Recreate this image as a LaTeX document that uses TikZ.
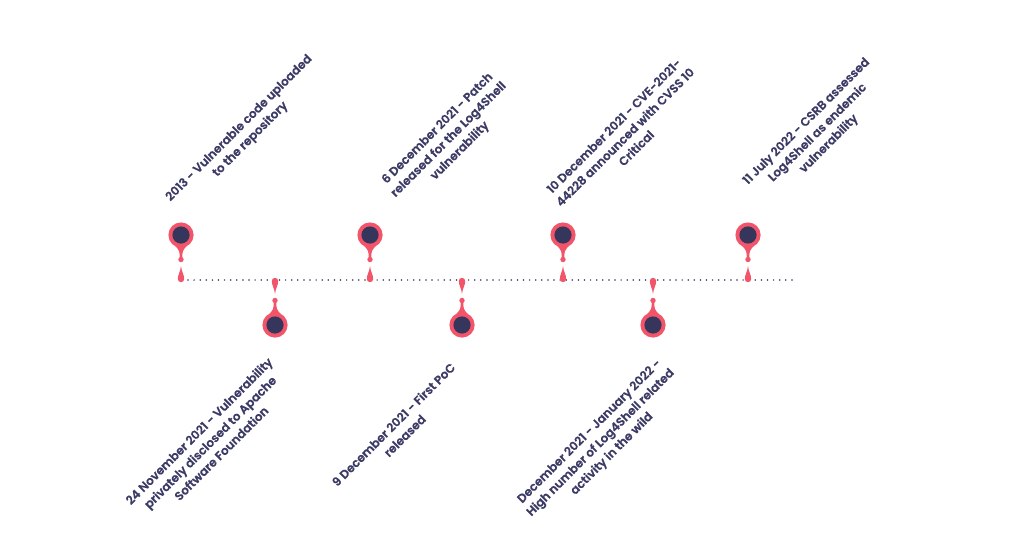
\documentclass[tikz,border=0pt]{standalone}
\usepackage{fontspec}
\setmainfont{Poppins}[BoldFont={Poppins SemiBold},BoldFeatures={FakeBold=0.3}]
\definecolor{pinred}{HTML}{F2546A}
\definecolor{navy}{HTML}{36355C}
\definecolor{txt}{HTML}{3C3B66}
\tikzset{
  lbl/.style={rotate=45, align=center, inner sep=0pt, text=txt,
    font=\fontsize{12}{15.8}\selectfont\bfseries},
  pin/.pic={
    \fill[pinred] (0,-45) circle (12.6);
    \fill[navy] (0,-45) circle (8.6);
    \fill[pinred] (-5.5,-33.8) .. controls (-1.8,-30) and (-1.2,-28) .. (-1.2,-22)
       -- (1.2,-22) .. controls (1.2,-28) and (1.8,-30) .. (5.5,-33.8) -- cycle;
    \fill[pinred] (0,-20.5) circle (2.7);
    \fill[pinred] (0,-14) .. controls (0.4,-9) and (3.2,-5) .. (3.2,-1)
       arc[start angle=0, end angle=180, radius=3.2]
       .. controls (-3.2,-5) and (-0.4,-9) .. (0,-14) -- cycle;
  }
}
\begin{document}
\begin{tikzpicture}[x=1pt,y=-1pt]
\useasboundingbox[fill=white] (0,0) rectangle (1024,551);
\coordinate (ls) at (188,280);
\coordinate (le) at (792,280);
\draw[navy, line width=1.7pt, line cap=round, dash pattern=on 0pt off 6.1pt] (ls) -- (le);
\pic at (181,280) {pin};
\pic at (370,280) {pin};
\pic at (563,280) {pin};
\pic at (748,280) {pin};
\pic[yscale=-1] at (275,280) {pin};
\pic[yscale=-1] at (462,280) {pin};
\pic[yscale=-1] at (653,280) {pin};
\node[lbl] (t1) at (245,134) {2013 - Vulnerable code uploaded\\to the repository};
\node[lbl] (t2) at (449,140) {6 December 2021 - Patch\\released for the Log4Shell\\vulnerability};
\node[lbl] (t3) at (625,137) {10 December 2021 - CVE-2021-\\44228 announced with CVSS 10\\Critical};
\node[lbl] (t4) at (818,133) {11 July 2022 - CSRB assessed\\Log4Shell as endemic\\vulnerability};
\node[lbl] (b1) at (210,442) {24 November 2021 - Vulnerability\\privately disclosed to Apache\\Software Foundation};
\node[lbl] (b2) at (399,430) {9 December 2021 - First PoC\\released};
\node[lbl] (b3) at (601,443) {December 2021 - January 2022 -\\High number of Log4Shell related\\activity in the wild};
\end{tikzpicture}
\end{document}
